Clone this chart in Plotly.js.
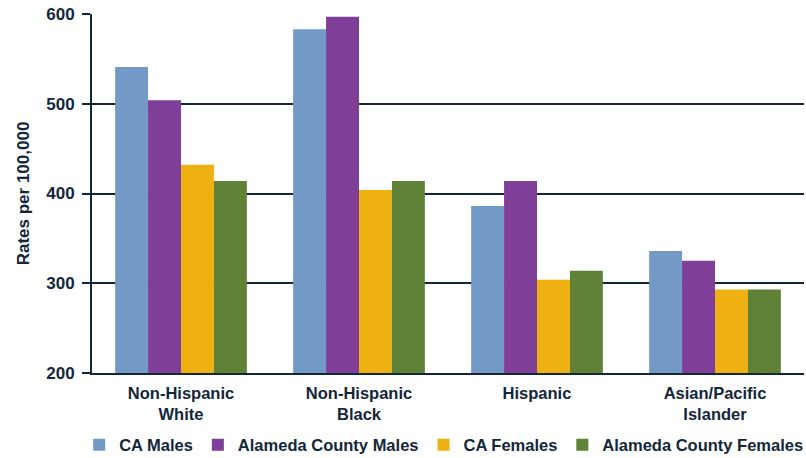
<!DOCTYPE html>
<html>
<head>
<meta charset="utf-8">
<script src="https://cdn.plot.ly/plotly-3.0.1.min.js"></script>
<style>html,body{margin:0;padding:0;background:#fff;}#chart{width:806px;height:458px;}</style>
</head>
<body>
<div id="chart"></div>
<script>
const categories = ["Non-Hispanic<br>White", "Non-Hispanic<br>Black", "Hispanic", "Asian/Pacific<br>Islander"];
const seriesNames = ["CA Males", "Alameda County Males", "CA Females", "Alameda County Females"];
const caMales = [541, 583, 386, 336];
const alamedaMales = [504, 597, 414, 325];
const caFemales = [432, 404, 304, 293];
const alamedaFemales = [414, 414, 314, 293];
const yTicks = [200, 300, 400, 500, 600];
const colors = ["#7399C6", "#7F3F98", "#EEB111", "#5F8237"];

const txt = "#13263a";
const font = {family: "Liberation Sans, Arial, sans-serif", color: txt};
const allSeries = [caMales, alamedaMales, caFemales, alamedaFemales];
const data = allSeries.map((vals, i) => ({
  type: "bar",
  name: seriesNames[i],
  x: categories,
  y: vals,
  marker: {color: colors[i], line: {width: 0}},
  hoverinfo: "y+name"
}));

const layout = {
  width: 806, height: 458,
  margin: {l: 92, r: 2, t: 14, b: 85, autoexpand: false},
  paper_bgcolor: "#fff", plot_bgcolor: "#fff",
  font: Object.assign({}, font, {size: 16, weight: "bold"}),
  barmode: "group",
  bargap: 0.26,
  bargroupgap: 0,
  showlegend: true,
  legend: {
    orientation: "h", x: -0.018, xanchor: "left", y: -0.2006, yanchor: "middle",
    font: Object.assign({}, font, {size: 16.5, weight: "bold"}),
    itemwidth: 30, tracegroupgap: 0, traceorder: "normal"
  },
  xaxis: {
    type: "category",
    showline: true, linecolor: txt, linewidth: 2,
    ticks: "", showgrid: false,
    ticklabelstandoff: 4,
    tickfont: Object.assign({}, font, {size: 16.5, weight: "bold"}),
    fixedrange: true
  },
  yaxis: {
    range: [200, 600],
    tickvals: yTicks,
    ticktext: yTicks.map(String),
    showgrid: true, gridcolor: txt, gridwidth: 2,
    showline: true, linecolor: txt, linewidth: 2,
    ticks: "outside", ticklen: 8, tickwidth: 2, tickcolor: txt,
    ticklabelstandoff: 4,
    zeroline: false,
    tickfont: Object.assign({}, font, {size: 17, weight: "bold"}),
    title: {text: "Rates per 100,000", font: Object.assign({}, font, {size: 17, weight: "bold"}), standoff: 12},
    fixedrange: true
  }
};

Plotly.newPlot("chart", data, layout, {displayModeBar: false, staticPlot: true});
</script>
</body>
</html>
